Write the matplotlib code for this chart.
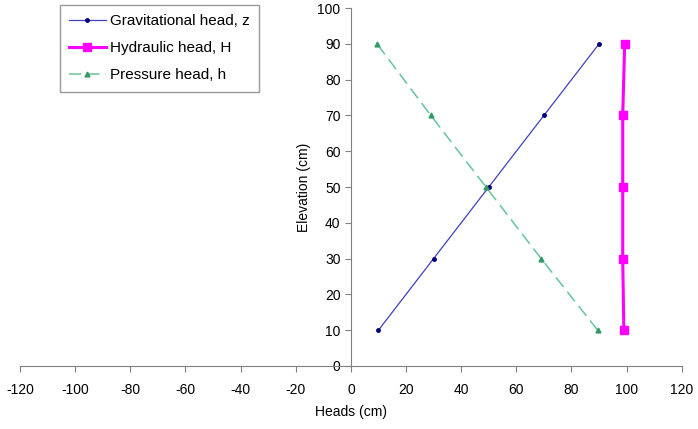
import matplotlib
matplotlib.use("Agg")
import matplotlib.pyplot as plt

plt.rcParams['font.family'] = ['Liberation Sans', 'DejaVu Sans']
plt.rcParams['axes.unicode_minus'] = False

elev = [10, 30, 50, 70, 90]
grav_head = [10, 30, 50, 70, 90]
hyd_head = [99, 98.6, 98.6, 98.6, 99.3]
pres_head = [89.5, 69, 49, 29, 9.5]

fig = plt.figure(figsize=(6.98, 4.29), dpi=100)
ax = fig.add_axes([0.0287, 0.147, 0.948, 0.834])

ax.plot(grav_head, elev, color='#4040c0', lw=0.9, marker='o', ms=2.5,
        mfc='#000080', mec='#000080', label='Gravitational head, z')
ax.plot(hyd_head, elev, color='#ff00ff', lw=2.2, marker='s', ms=6,
        mfc='#ff00ff', mec='#ff00ff', label='Hydraulic head, H')
ax.plot(pres_head, elev, color='#66c699', lw=1.1, ls=(0, (8, 4)), marker='^', ms=3.5,
        mfc='#339966', mec='#339966', label='Pressure head, h')

ax.set_xlim(-120, 120)
ax.set_ylim(0, 100)
ax.set_xticks(range(-120, 121, 20))
ax.set_yticks(range(0, 101, 10))

ax.spines['left'].set_position(('data', 0))
ax.spines['bottom'].set_position(('data', 0))
ax.spines['right'].set_visible(False)
ax.spines['top'].set_visible(False)
for s in ('left', 'bottom'):
    ax.spines[s].set_color('#808080')
ax.tick_params(colors='#808080', labelcolor='black', labelsize=10, length=4)
ax.tick_params(axis='x', pad=8)

ax.set_xlabel('Heads (cm)', fontsize=10)
ax.set_ylabel('Elevation (cm)', fontsize=10)
ax.yaxis.set_label_coords(0.44, 0.5)
ax.xaxis.set_label_coords(0.5, -0.11)

leg = ax.legend(loc='upper left', bbox_to_anchor=(0.06, 1.008), fontsize=11,
                frameon=True, fancybox=False, edgecolor='#808080', borderpad=0.6,
                labelspacing=0.85, handlelength=2.4, handletextpad=0.3,
                borderaxespad=0)
leg.get_frame().set_linewidth(1.0)

fig.savefig('out.png', dpi=100)
